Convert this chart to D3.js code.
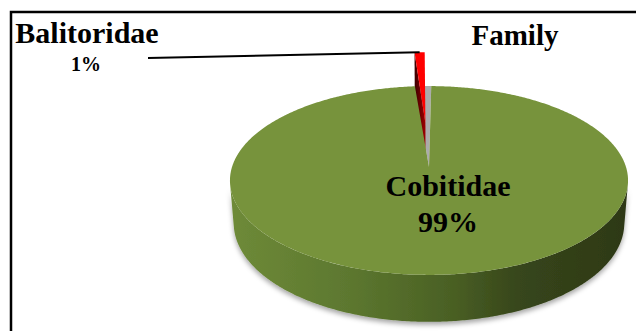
<!DOCTYPE html>
<html><head><meta charset="utf-8">
<script src="https://cdn.jsdelivr.net/npm/d3@7"></script>
<style>body{margin:0;background:#fff}svg{display:block}</style>
</head><body>
<script>
// ---- data ----
const categories = ["Balitoridae", "Cobitidae"];
const values = [1, 99];
const percentLabels = ["1%", "99%"];
const colors = ["#ff0000", "#77933c"];
const title = "Family";

// ---- layout ----
const W = 636, H = 331;
const svg = d3.select("body").append("svg").attr("width", W).attr("height", H);

const defs = svg.append("defs");
const grad = defs.append("linearGradient").attr("id", "sideGrad")
  .attr("gradientUnits", "userSpaceOnUse").attr("x1", 232).attr("x2", 630).attr("y1", 0).attr("y2", 0);
[[0, "#6e8a38"], [0.3, "#5c772f"], [0.55, "#4a6024"], [0.72, "#37461b"], [1, "#2d3816"]]
  .forEach(([o, c]) => grad.append("stop").attr("offset", o).attr("stop-color", c));
const wallGrad = defs.append("linearGradient").attr("id", "redWall")
  .attr("x1", 0).attr("x2", 1).attr("y1", 0).attr("y2", 0);
wallGrad.append("stop").attr("offset", 0).attr("stop-color", "#3a0000");
wallGrad.append("stop").attr("offset", 1).attr("stop-color", "#a00000");
const flt = defs.append("filter").attr("id", "shadow").attr("x", "-10%").attr("y", "-10%").attr("width", "120%").attr("height", "140%");
flt.append("feDropShadow").attr("dx", 0).attr("dy", 3).attr("stdDeviation", 2.5)
  .attr("flood-color", "#000").attr("flood-opacity", 0.35);

// border
svg.append("rect").attr("x", 11).attr("y", 12).attr("width", 800).attr("height", 500)
  .attr("fill", "none").attr("stroke", "#000").attr("stroke-width", 2.5);

// perspective projection of a unit-radius pie (top face at Z=0, bottom at Z=-h)
const cx = 429, cy = 167;
const alpha = 28 * Math.PI / 180, sa = Math.sin(alpha), ca = Math.cos(alpha);
const dist = 7 * ca, F = 197 * dist, h = 0.248;
function proj(X, Y, Z) {
  const depth = Y * ca - Z * sa + dist;
  const up = Y * sa + Z * ca;
  return [cx + F * X / depth, cy - F * up / depth];
}
const pt = (a, r, z, off) => proj(off[0] + r * Math.sin(a), off[1] + r * Math.cos(a), z);
const line = d3.line();
function arcPts(a0, a1, z, off) {
  const n = Math.max(2, Math.ceil(Math.abs(a1 - a0) / 0.01));
  return d3.range(n + 1).map(i => pt(a0 + (a1 - a0) * i / n, 1, z, off));
}
const wall = (a, off) => line([pt(0, 0, 0, off), pt(a, 1, 0, off), pt(a, 1, -h, off), pt(0, 0, -h, off)]) + "Z";
const wedge = (a0, a1, off) => line([pt(0, 0, 0, off)].concat(arcPts(a0, a1, 0, off))) + "Z";

const rot = -4 * Math.PI / 180;
const pie = d3.pie().sort(null).value(d => d).startAngle(rot).endAngle(rot + 2 * Math.PI);
const arcs = pie(values);
const explode = [0.51, 0];
arcs.forEach((d, i) => {
  const mid = (d.startAngle + d.endAngle) / 2;
  d.off = [explode[i] * Math.sin(mid), explode[i] * Math.cos(mid)];
});

const g = svg.append("g");
// gap left in the green slice: its cut walls, seen through the opening
g.append("path").attr("fill", "#ababab")
  .attr("d", wedge(arcs[1].endAngle - 2 * Math.PI - 0.012, arcs[1].startAngle + 0.02, arcs[1].off));
// red (exploded) slice: its left cut wall, then its top face
{
  const d = arcs[0], off = d.off;
  g.append("path").attr("fill", "url(#redWall)").attr("d", wall(d.startAngle, off));
  g.append("path").attr("fill", colors[0]).attr("d", wedge(d.startAngle, d.endAngle, off));
}
// green slice: front outer wall, top face
{
  const d = arcs[1], off = d.off;
  const lim = Math.acos(-1 / (dist * ca));
  const a0 = Math.max(d.startAngle, lim), a1 = Math.min(d.endAngle, 2 * Math.PI - lim);
  const top = arcPts(a0, a1, 0, off), bot = arcPts(a1, a0, -h, off);
  g.append("path").attr("fill", "url(#sideGrad)").attr("filter", "url(#shadow)")
    .attr("d", line(top.concat(bot)) + "Z");
  g.append("path").attr("fill", colors[1]).attr("d", wedge(d.startAngle + 0.02, d.endAngle - 0.012, off));
}

// leader line for the small slice
const redMid = (arcs[0].startAngle + arcs[0].endAngle) / 2;
const lEnd = pt(redMid, 1, 0, arcs[0].off);
svg.append("path").attr("fill", "none").attr("stroke", "#000").attr("stroke-width", 2)
  .attr("d", line([[148, 58], lEnd]));

const font = "'Liberation Serif','Times New Roman',serif";
const txt = (x, y, size, s) => svg.append("text").attr("x", x).attr("y", y).attr("text-anchor", "middle")
  .attr("font-family", font).attr("font-weight", "bold").attr("font-size", size).attr("fill", "#000").text(s);
txt(87, 43, 30, categories[0]);
txt(86, 71, 20, percentLabels[0]);
txt(448, 196, 30, categories[1]);
txt(448, 232, 30, percentLabels[1]);
txt(515, 45, 29, title);
</script>
</body></html>
